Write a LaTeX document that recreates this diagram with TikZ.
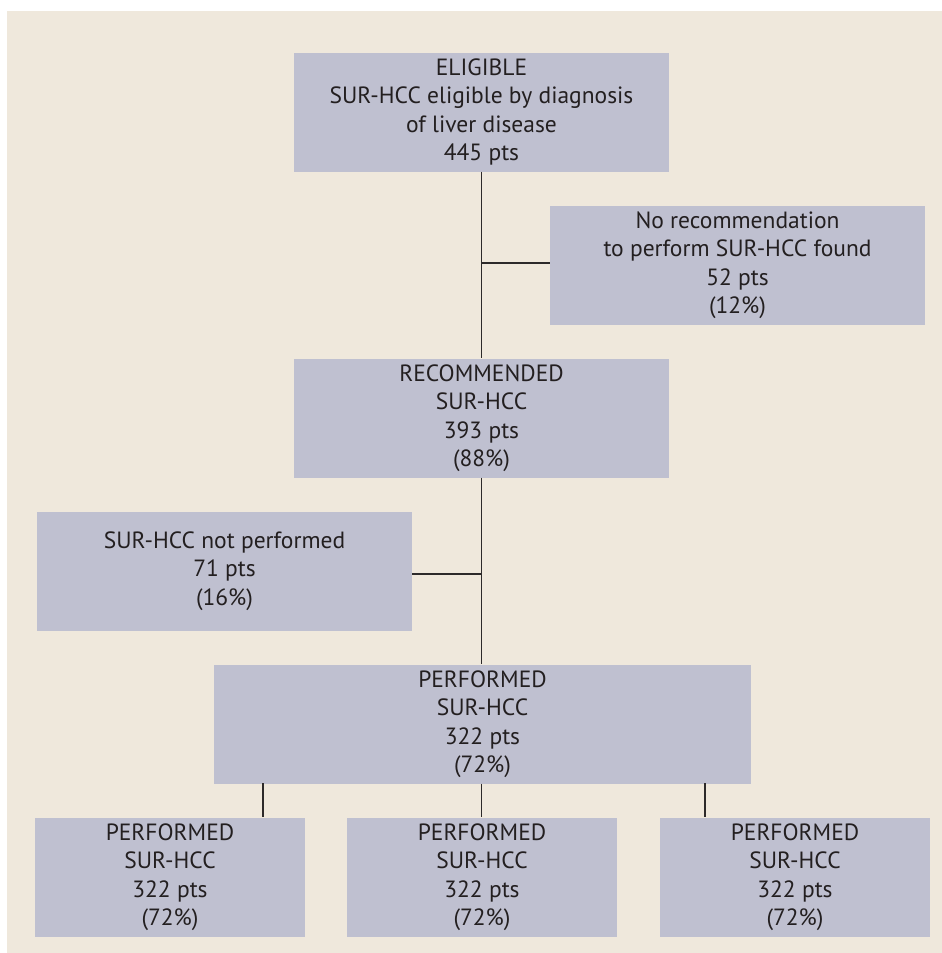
\documentclass[tikz,border=0pt]{standalone}
\usepackage{fontspec}
\setmainfont{PT Sans}
\definecolor{bgcol}{RGB}{239,232,220}
\definecolor{boxcol}{RGB}{191,192,208}
\definecolor{txtcol}{RGB}{35,31,32}
\definecolor{linecol}{RGB}{45,42,42}
\begin{document}
\begin{tikzpicture}[x=1pt,y=-1pt,
  box/.style={rectangle, fill=boxcol, draw=none, inner sep=0pt, align=center,
    text=txtcol, minimum height=119pt, minimum width=375pt,
    font=\fontsize{23.5}{28.5}\selectfont},
  conn/.style={draw=linecol, line width=1.3pt}]
\useasboundingbox (0,0) rectangle (942,953);
\fill[bgcol] (7,11) rectangle (942,953);

\node[box] (elig) at (481.5,112) {ELIGIBLE\\SUR-HCC eligible by diagnosis\\of liver disease\\445 pts};
\node[box] (nore) at (737.5,265) {No recommendation\\to perform SUR-HCC found\\52 pts\\(12\%)};
\node[box] (rec) at (481.5,418) {RECOMMENDED\\SUR-HCC\\393 pts\\(88\%)};
\node[box] (notp) at (224.5,571) {SUR-HCC not performed\\71 pts\\(16\%)};
\node[box, minimum width=537pt] (perf) at (482.5,724) {PERFORMED\\SUR-HCC\\322 pts\\(72\%)};
\node[box, minimum width=270pt] (b1) at (170,877) {PERFORMED\\SUR-HCC\\322 pts\\(72\%)};
\node[box, minimum width=270pt] (b2) at (482,877) {PERFORMED\\SUR-HCC\\322 pts\\(72\%)};
\node[box, minimum width=270pt] (b3) at (795,877) {PERFORMED\\SUR-HCC\\322 pts\\(72\%)};

\coordinate (j1) at (481.5,263);
\coordinate (j2) at (481.5,574);
\coordinate (t1) at (263,783);
\coordinate (t3) at (705,783);

\draw[conn] (elig.south) -- (rec.north);
\draw[conn] (j1) -- (j1 -| nore.west);
\draw[conn] (rec.south) -- (rec.south |- perf.north);
\draw[conn] (j2) -- (j2 -| notp.east);
\draw[conn] (t1) -- (t1 |- b1.north);
\draw[conn] (rec.south |- perf.south) -- (rec.south |- b2.north);
\draw[conn] (t3) -- (t3 |- b3.north);
\end{tikzpicture}
\end{document}
